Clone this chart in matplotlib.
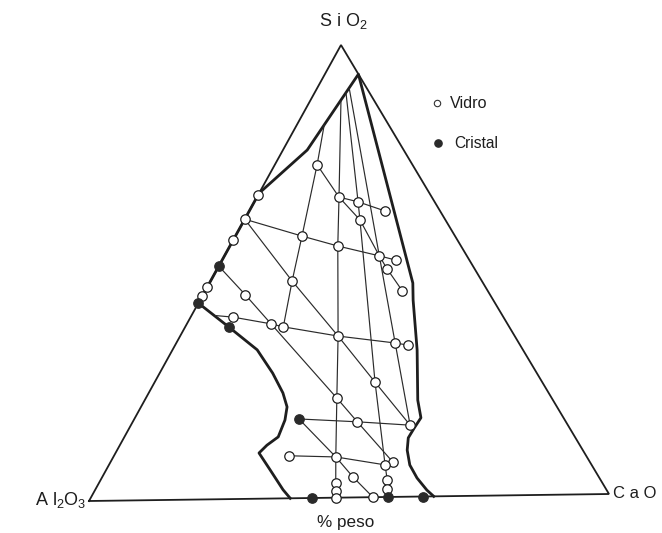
import matplotlib
matplotlib.use("Agg")
import matplotlib.pyplot as plt
from matplotlib.transforms import Affine2D

plt.rcParams['font.family'] = ['Liberation Sans', 'DejaVu Sans']
plt.rcParams['mathtext.fontset'] = 'custom'
plt.rcParams['mathtext.rm'] = 'Liberation Sans'
plt.rcParams['mathtext.it'] = 'Liberation Sans:italic'
plt.rcParams['mathtext.bf'] = 'Liberation Sans:bold'

# ---- compositions, wt% (SiO2, CaO); Al2O3 is the balance ----
glass = {
    'g01': (73.6, 8.2), 'g02': (67.0, 0.0), 'g03': (66.4, 15.9), 'g04': (65.3, 20.1),
    'g05': (63.2, 26.3), 'g06': (61.3, 22.4), 'g07': (61.8, 0.0), 'g08': (57.9, 12.9),
    'g09': (55.6, 20.9), 'g10': (57.2, 0.0), 'g11': (53.3, 30.0), 'g12': (52.3, 33.7),
    'g13': (50.4, 32.9), 'g14': (48.0, 15.8), 'g15': (46.9, 0.0), 'g16': (45.0, 0.0),
    'g17': (45.1, 8.2), 'g18': (45.5, 38.2), 'g19': (40.2, 8.2), 'g20': (38.6, 16.3),
    'g21': (37.9, 19.0), 'g22': (35.7, 30.6), 'g23': (34.0, 42.4), 'g24': (33.5, 45.1),
    'g25': (25.4, 42.7), 'g26': (22.0, 37.0), 'g27': (16.7, 43.5), 'g28': (15.8, 54.1),
    'g29': (9.4, 33.9), 'g30': (9.0, 43.1), 'g31': (7.7, 54.7), 'g32': (7.1, 53.5),
    'g33': (4.5, 48.6), 'g34': (3.2, 45.9), 'g35': (3.8, 55.5), 'g36': (1.5, 46.8),
    'g37': (1.8, 56.4), 'g38': (0.0, 47.5), 'g39': (0.0, 54.6),
}

crystal = {
    'c1': (51.5, 0.0), 'c2': (43.4, 0.0), 'c3': (38.0, 8.5), 'c4': (17.5, 31.9),
    'c5': (0.0, 42.9), 'c6': (0.0, 57.5), 'c7': (0.0, 64.2),
}

# points where joins start on the glass-forming boundary
boundary_nodes = {
    'b1': (87.6, 6.0), 'b2': (89.4, 6.1), 'b3': (90.3, 6.3), 'b4': (82.4, 5.3),
    'b5': (40.6, 4.6),
}

# glass-forming region boundary (left foot -> apex on SiO2-CaO side -> right foot)
boundary_sio2 = [0.0, 1.9, 6.3, 10.1, 11.8, 13.6, 17.3, 20.2, 23.3, 27.7, 32.9,
                 38.0, 43.4, 67.5, 76.9, 93.5,
                 47.2, 43.4, 32.4, 21.3, 17.4, 15.2, 13.0, 10.3, 7.0, 4.1, 1.4, 0.0]
boundary_cao = [38.7, 36.4, 31.8, 27.8, 28.5, 29.8, 29.3, 28.3, 26.0, 21.9, 16.4,
                8.5, 0.0, 0.0, 4.7, 6.5,
                39.4, 41.3, 47.4, 52.9, 55.4, 55.2, 55.1, 56.2, 58.3, 61.1, 64.3, 66.3]

# joins between measured compositions
joins = [
    ['b1', 'g03', 'g09', 'g22', 'g26', 'g30', 'g34', 'g36', 'g38'],
    ['b2', 'g04', 'g06', 'g25', 'g32', 'g35', 'g37', 'c6'],
    ['b3', 'g11', 'g23', 'g28'],
    ['b4', 'g01', 'g08', 'g14', 'g21'],
    ['g07', 'g08', 'g09', 'g11', 'g12'],
    ['g01', 'g03', 'g06', 'g11', 'g13', 'g18'],
    ['g03', 'g04', 'g05'],
    ['g07', 'g14', 'g22', 'g25', 'g28'],
    ['c1', 'g17', 'g20', 'g26', 'g27', 'g31'],
    ['b5', 'g19', 'g20', 'g21', 'g22', 'g23', 'g24'],
    ['c4', 'g27', 'g28'],
    ['c4', 'g30', 'g33', 'g39'],
    ['g29', 'g30', 'g32'],
]

corner_labels = ['A l$_2$O$_3$', 'S i O$_2$', 'C a O']
legend_labels = ['Vidro', 'Cristal']
axis_note = '% peso'

# ---- figure ----
W, H = 662, 533
fig = plt.figure(figsize=(W / 100, H / 100), dpi=100)
ax = fig.add_axes([0, 0, 1, 1])
ax.set_xlim(0, W)
ax.set_ylim(H, 0)
ax.axis('off')

# triangle corners on the page: Al2O3 (left), CaO (right), SiO2 (top)
P_AL = (89.0, 501.0)
P_CA = (609.0, 494.0)
P_SI = (341.0, 45.0)
# data coordinates: x = CaO fraction, y = SiO2 fraction
tern = Affine2D.from_values(P_CA[0] - P_AL[0], P_CA[1] - P_AL[1],
                            P_SI[0] - P_AL[0], P_SI[1] - P_AL[1],
                            P_AL[0], P_AL[1]) + ax.transData

ink = '#1e1e1e'


def xy(comp):
    s, c = comp
    return c / 100.0, s / 100.0


allpts = {**glass, **crystal, **boundary_nodes}

# outer triangle
ax.plot([0, 1, 0, 0], [0, 0, 1, 0], transform=tern, color=ink, lw=1.3,
        solid_joinstyle='miter')

# region boundary
ax.plot([c / 100 for c in boundary_cao], [s / 100 for s in boundary_sio2],
        transform=tern, color=ink, lw=2.0, solid_joinstyle='round')

# joins
for seq in joins:
    xs, ys = zip(*[xy(allpts[k]) for k in seq])
    ax.plot(xs, ys, transform=tern, color='#2b2b2b', lw=0.85)

gx, gy = zip(*[xy(v) for v in glass.values()])
ax.plot(gx, gy, 'o', transform=tern, ms=6.8, mfc='white', mec=ink, mew=0.9,
        zorder=5)
cx, cy = zip(*[xy(v) for v in crystal.values()])
ax.plot(cx, cy, 'o', transform=tern, ms=6.8, mfc='#2a2a2a', mec='#2a2a2a',
        mew=0.9, zorder=5)

# corner labels
ax.text(86, 500, corner_labels[0], ha='right', va='center', fontsize=13,
        color=ink)
ax.text(343, 21, corner_labels[1], ha='center', va='center', fontsize=13,
        color=ink)
ax.text(613, 493, corner_labels[2], ha='left', va='center', fontsize=12,
        color=ink)
ax.text(346, 522, axis_note, ha='center', va='center', fontsize=12.3,
        color=ink)

# legend
ax.plot([437], [103], 'o', ms=4.6, mfc='white', mec='#333333', mew=0.8)
ax.text(450, 103, legend_labels[0], ha='left', va='center', fontsize=11.6,
        color=ink)
ax.plot([438], [143], 'o', ms=5.2, mfc='#2a2a2a', mec='#2a2a2a')
ax.text(454, 143, legend_labels[1], ha='left', va='center', fontsize=11.2,
        color=ink)

fig.savefig('out.png', dpi=100)
